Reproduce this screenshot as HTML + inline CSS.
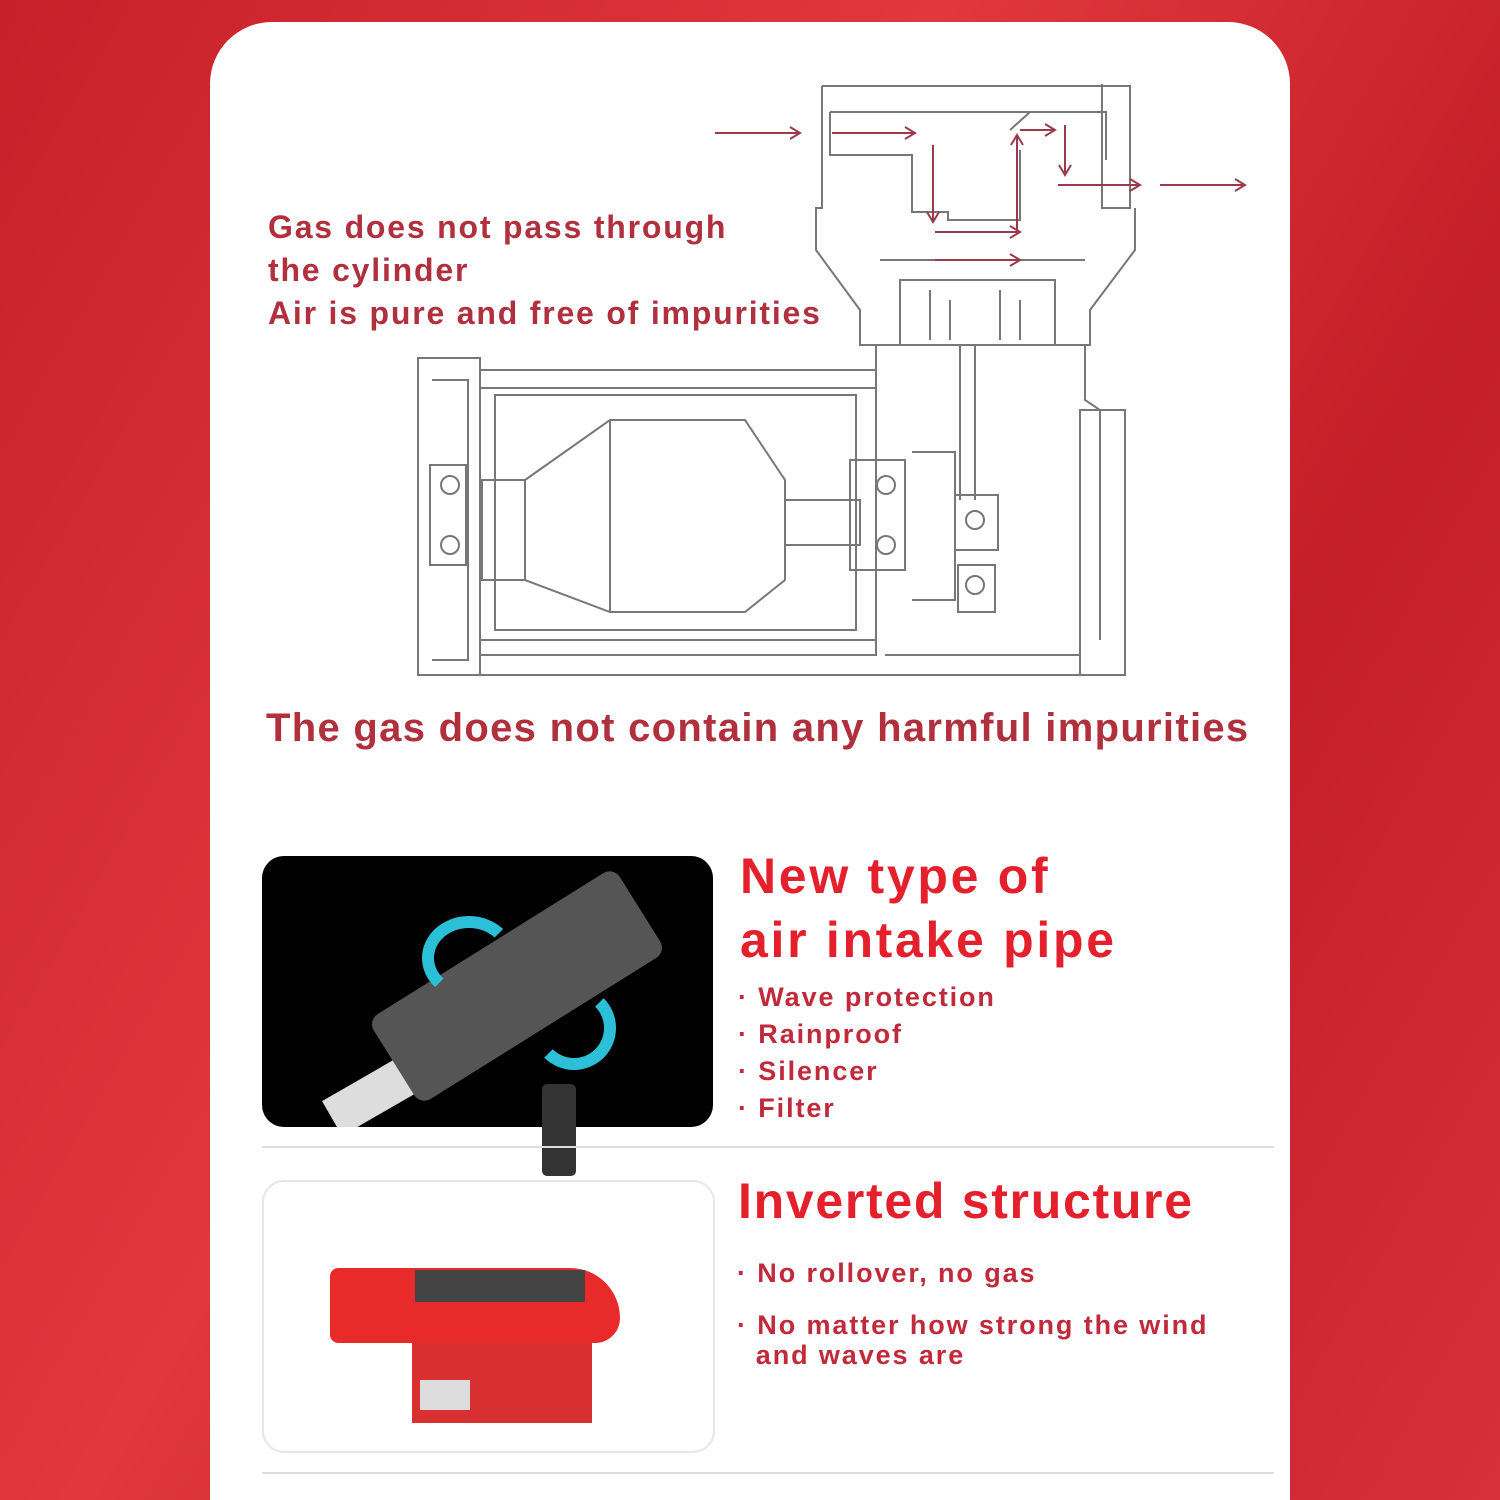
<!DOCTYPE html>
<html><head><meta charset="utf-8"><style>
html,body{margin:0;padding:0}
body{width:1500px;height:1500px;overflow:hidden;position:relative;background:linear-gradient(120deg,#c8202a,#e0383c 40%,#c41e28 70%,#d8303a);font-family:"Liberation Sans","DejaVu Sans",sans-serif}
.card{position:absolute;left:210px;top:22px;width:1080px;height:1478px;background:#fff;border-radius:62px 62px 0 0}
.t{position:absolute;font-weight:bold;white-space:nowrap}
.dr{color:#b0303e}
.rd{color:#e3202c}
.b{color:#c02a3a;font-size:27px;letter-spacing:1.9px}
</style></head><body>
<div class="card"></div>
<svg style="position:absolute;left:0;top:0" width="1500" height="1500" fill="none" stroke="#777" stroke-width="2">
<path d="M822 86H1130V208H1102V84"/>
<path d="M822 86V208H816V250L860 310V345H1090V310L1135 250V208"/>
<path d="M830 112H1106V160"/>
<path d="M830 112V155H912V212H948V220H1020V150"/>
<path d="M1010 130L1030 112H1080"/>
<path d="M880 260H1085M900 280H1055V345H900Z"/>
<path d="M930 290V340M1000 290V340M950 300V340M1020 300V340"/>
<path d="M960 345V500M975 345V500"/>
<path d="M876 345V640M1085 345V400L1100 410V640"/>
<path d="M418 358H480V675H418Z"/>
<path d="M480 370H876V388H480M480 655H876V640H480"/>
<path d="M495 395H856V630H495Z"/>
<path d="M432 380H468V660H432"/>
<path d="M430 465H466V565H430Z"/>
<path d="M482 480H525V580H482Z"/>
<path d="M525 480L610 420H745L785 480V580L745 612H610L525 580Z"/>
<path d="M610 420V612"/>
<path d="M785 500H860V545H785"/>
<path d="M850 460H905V570H850Z"/>
<path d="M912 452H955V600H912"/>
<path d="M955 495H998V550H955ZM958 565H995V612H958Z"/>
<path d="M1080 410H1125V675H1080Z"/>
<path d="M885 655H1080V675H420"/>
<circle cx="450" cy="485" r="9"/><circle cx="450" cy="545" r="9"/>
<circle cx="886" cy="485" r="9"/><circle cx="886" cy="545" r="9"/>
<circle cx="975" cy="520" r="9"/><circle cx="975" cy="585" r="9"/>
<g stroke="#9a3a4a" stroke-width="2">
<path d="M715 133H800M790 127L800 133L790 139"/>
<path d="M832 133H915M905 127L915 133L905 139"/>
<path d="M933 145V222M927 212L933 222L939 212"/>
<path d="M935 232H1020M1010 226L1020 232L1010 238M935 260H1020M1010 254L1020 260L1010 266"/>
<path d="M1017 232V135M1011 145L1017 135L1023 145"/>
<path d="M1020 130H1055M1045 124L1055 130L1045 136"/>
<path d="M1065 125V175M1059 165L1065 175L1071 165"/>
<path d="M1058 185H1140M1130 179L1140 185L1130 191"/>
<path d="M1160 185H1245M1235 179L1245 185L1235 191"/>
</g>
</svg>
<div class="t dr" style="left:268px;top:206px;font-size:32px;line-height:43px;letter-spacing:1.8px">Gas does not pass through<br>the cylinder<br>Air is pure and free of impurities</div>
<div class="t dr" style="left:266px;top:706px;font-size:40px;letter-spacing:1.3px">The gas does not contain any harmful impurities</div>

<div style="position:absolute;left:262px;top:856px;width:451px;height:271px;background:#000;border-radius:22px;overflow:hidden">
<div style="position:absolute;left:60px;top:205px;width:150px;height:40px;background:#ddd;transform:rotate(-30deg)"></div>
<div style="position:absolute;left:110px;top:80px;width:290px;height:100px;background:#555;border-radius:12px;transform:rotate(-32deg)"></div>
<div style="position:absolute;left:160px;top:60px;width:70px;height:60px;border:12px solid #2cc0d8;border-color:#2cc0d8 transparent transparent #2cc0d8;border-radius:50%"></div>
<div style="position:absolute;left:270px;top:130px;width:60px;height:60px;border:12px solid #2cc0d8;border-color:transparent #2cc0d8 #2cc0d8 transparent;border-radius:50%"></div>
</div>
<div style="position:absolute;left:542px;top:1084px;width:34px;height:92px;background:#333;border-radius:5px"></div>
<div style="position:absolute;left:262px;top:1180px;width:449px;height:269px;border:2px solid #e6e6e6;border-radius:22px"></div>
<div style="position:absolute;left:330px;top:1268px;width:290px;height:75px;background:#e82a2a;border-radius:10px 60px 30px 10px"></div>
<div style="position:absolute;left:415px;top:1270px;width:170px;height:32px;background:#444"></div>
<div style="position:absolute;left:412px;top:1343px;width:180px;height:80px;background:#d83030"></div>
<div style="position:absolute;left:420px;top:1380px;width:50px;height:30px;background:#ddd"></div>

<div class="t rd" style="left:740px;top:844px;font-size:50px;line-height:64px;letter-spacing:2.7px">New type of<br>air intake pipe</div>
<div class="t b" style="left:738px;top:979px;line-height:37px">· Wave protection<br>· Rainproof<br>· Silencer<br>· Filter</div>
<div style="position:absolute;left:262px;top:1146px;width:1012px;height:2px;background:#ddd"></div>
<div class="t rd" style="left:738px;top:1172px;font-size:50px;letter-spacing:1.7px">Inverted structure</div>
<div class="t b" style="left:737px;top:1258px">· No rollover, no gas</div>
<div class="t b" style="left:737px;top:1310px;line-height:30px">· No matter how strong the wind<br>&nbsp;&nbsp;and waves are</div>
<div style="position:absolute;left:262px;top:1472px;width:1012px;height:2px;background:#ddd"></div>
</body></html>
